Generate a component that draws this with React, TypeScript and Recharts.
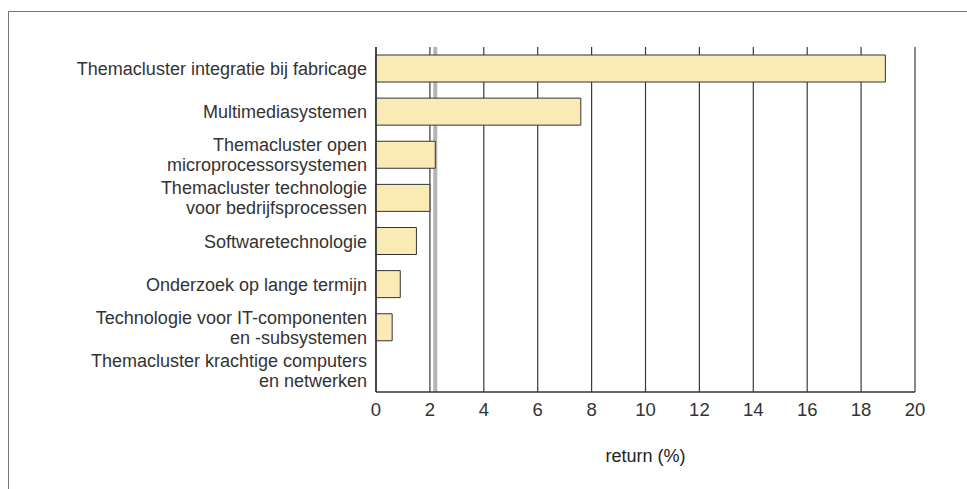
import { BarChart, Bar, XAxis, YAxis, CartesianGrid, ReferenceLine } from "recharts";

const CATEGORIES = [
  "Themacluster integratie bij fabricage",
  "Multimediasystemen",
  "Themacluster open\nmicroprocessorsystemen",
  "Themacluster technologie\nvoor bedrijfsprocessen",
  "Softwaretechnologie",
  "Onderzoek op lange termijn",
  "Technologie voor IT-componenten\nen -subsystemen",
  "Themacluster krachtige computers\nen netwerken",
];
const RETURNS = [18.9, 7.6, 2.2, 2.0, 1.5, 0.9, 0.6, 0];
const X_TICKS = [0, 2, 4, 6, 8, 10, 12, 14, 16, 18, 20];
const AVERAGE = 2.2;

const data = CATEGORIES.map((name, i) => ({ name, value: RETURNS[i] }));

const FONT = "'Liberation Sans', Arial, sans-serif";

// eslint-disable-next-line @typescript-eslint/no-explicit-any
function CategoryTick({ x, y, payload }: any) {
  const lines = String(payload.value).split("\n");
  const lh = 20;
  return (
    <text x={x - 1} y={y} textAnchor="end" fontSize={18} fontFamily={FONT} fill="#333">
      {lines.map((l, i) => (
        <tspan key={i} x={x - 1} y={y + (i - (lines.length - 1) / 2) * lh + 6.5}>
          {l}
        </tspan>
      ))}
    </text>
  );
}

export default function App() {
  return (
    <div style={{ position: "absolute", left: 0, top: 0, width: 967, height: 489, background: "#fff", overflow: "hidden" }}>
      <div
        style={{
          position: "absolute",
          left: 8,
          top: 11,
          width: 980,
          height: 500,
          borderLeft: "1.5px solid #777",
          borderTop: "1.5px solid #777",
        }}
      />
      <div style={{ position: "absolute", left: 0, top: 0 }}>
        <BarChart
          width={967}
          height={489}
          data={data}
          layout="vertical"
          margin={{ top: 47, right: 52, bottom: 17, left: 0 }}
          barSize={27}
        >
          <CartesianGrid horizontal={false} vertical stroke="#3a3a3a" strokeWidth={1.2} />
          <XAxis
            type="number"
            domain={[0, 20]}
            ticks={X_TICKS}
            interval={0}
            height={80}
            tickLine={false}
            axisLine={{ stroke: "#333", strokeWidth: 1.5 }}
            tick={{ fontSize: 18.5, fontFamily: FONT, fill: "#333", dy: 3 }}
            label={{
              value: "return (%)",
              position: "insideBottom",
              offset: 10,
              fontSize: 18,
              fontFamily: FONT,
              fill: "#222",
            }}
          />
          <YAxis
            type="category"
            dataKey="name"
            width={376}
            tickLine={false}
            axisLine={{ stroke: "#333", strokeWidth: 1.5 }}
            tick={<CategoryTick />}
            interval={0}
          />
          <ReferenceLine x={AVERAGE} stroke="#b5b5b5" strokeWidth={4} zIndex={200} />
          <Bar dataKey="value" fill="#FAEBB6" stroke="#333" strokeWidth={1} isAnimationActive={false} />
        </BarChart>
      </div>
    </div>
  );
}
